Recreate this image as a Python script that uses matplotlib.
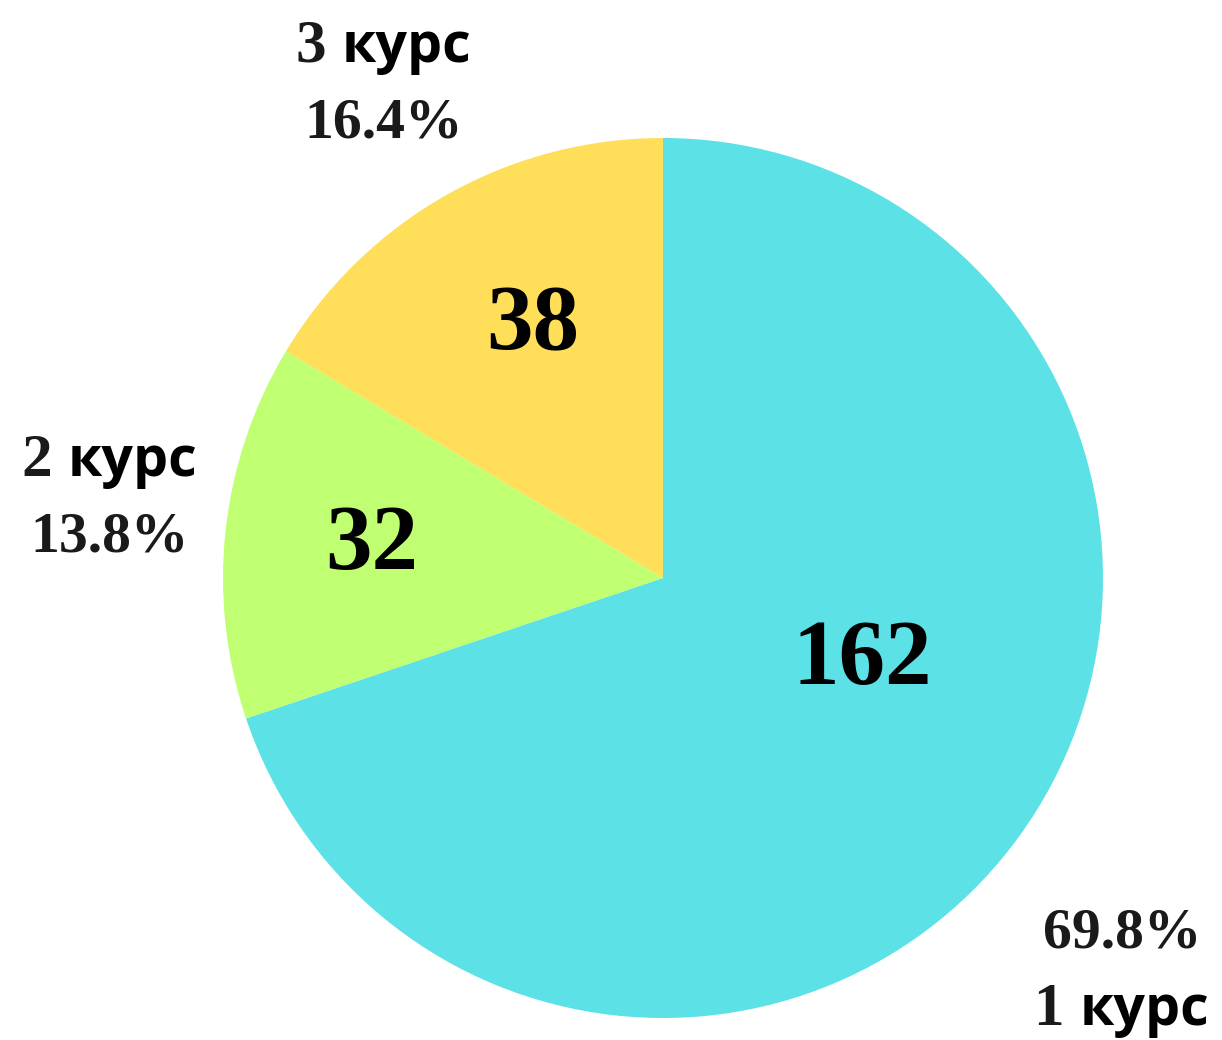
import numpy as np
import matplotlib
matplotlib.use("Agg")
import matplotlib.pyplot as plt
from matplotlib.offsetbox import TextArea, HPacker, VPacker, AnnotationBbox

# data
courses = ["1", "2", "3"]
counts = [162, 32, 38]
colors = ["#5CE1E6", "#C1FF72", "#FFDE59"]

# label placement (fraction of radius) and small angle tweaks
outer_dist = [1.375, 1.27, 1.29]
outer_shift = [-5, -2, 0]
inner_dist = [0.49, 0.666, 0.643]
inner_shift = [13, 0, -2]

W, H = 1222, 1040
fig = plt.figure(figsize=(W / 100, H / 100), dpi=100)
cx, cy, r = 663, 462, 440
ax = fig.add_axes([(cx - r) / W, (cy - r) / H, 2 * r / W, 2 * r / H])

wedges, _ = ax.pie(counts, colors=colors, startangle=90, counterclock=False,
                   radius=1, wedgeprops=dict(linewidth=0))
ax.set_xlim(-1, 1)
ax.set_ylim(-1, 1)
ax.axis("off")

serif = dict(family="Liberation Serif", weight="bold", color="#1a1a1a")
sans = dict(family="Open Sans", weight="bold", color="black")
total = sum(counts)

for i, w in enumerate(wedges):
    mid = np.deg2rad((w.theta1 + w.theta2) / 2 + outer_shift[i])
    name = HPacker(children=[TextArea(courses[i] + " ", textprops=dict(size=44, **serif)),
                             TextArea("курс", textprops=dict(size=40, **sans))],
                   align="baseline", pad=0, sep=0)
    pct = TextArea(f"{counts[i] / total * 100:.1f}%", textprops=dict(size=41.5, **serif))
    x, y = outer_dist[i] * np.cos(mid), outer_dist[i] * np.sin(mid)
    lines = [pct, name] if y < 0 else [name, pct]
    box = VPacker(children=lines, align="center", pad=0, sep=16)
    ab = AnnotationBbox(box, (x, y), frameon=False, box_alignment=(0.5, 0.5),
                        annotation_clip=False)
    ax.add_artist(ab)

    a = np.deg2rad((w.theta1 + w.theta2) / 2 + inner_shift[i])
    ax.text(inner_dist[i] * np.cos(a), inner_dist[i] * np.sin(a), str(counts[i]),
            ha="center", va="center", size=67, color="black",
            family="Liberation Serif", weight="bold")

fig.savefig("out.png", dpi=100)
